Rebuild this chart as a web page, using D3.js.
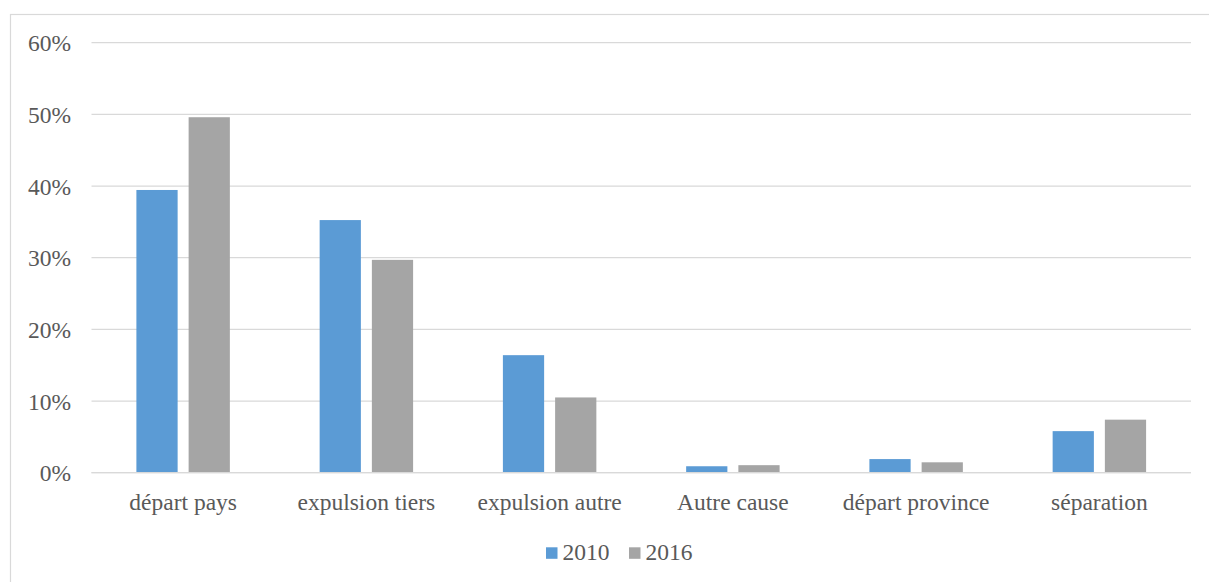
<!DOCTYPE html>
<html><head><meta charset="utf-8">
<script src="https://cdn.jsdelivr.net/npm/d3@7"></script>
<style>body{margin:0;background:#fff}svg{display:block}svg text{font-family:"Liberation Serif","Times New Roman",Tinos,serif;fill:#595959}</style>
</head><body><svg id="c" width="1209" height="582"></svg>
<script>
const categories = ["départ pays","expulsion tiers","expulsion autre","Autre cause","départ province","séparation"];
const seriesNames = ["2010","2016"];
const values2010 = [39.45, 35.25, 16.4, 0.9, 1.9, 5.8];
const values2016 = [49.6, 29.7, 10.5, 1.05, 1.45, 7.4];
const yTicks = [0,10,20,30,40,50,60];
const colors = ["#5b9bd5","#a5a5a5"];
const FS = 23.5;

const svg = d3.select("#c");
svg.append("rect").attr("x",10.5).attr("y",14.5).attr("width",1220).attr("height",600)
  .attr("fill","none").attr("stroke","#d9d9d9").attr("stroke-width",1.2);

const L=91.5, R=1191, T=42.7, B=472.7;
const x = d3.scaleBand().domain(categories).range([L,R]);
const y = d3.scaleLinear().domain([0,60]).range([B,T]);

svg.append("g").selectAll("line").data(yTicks).join("line")
  .attr("x1",L).attr("x2",R).attr("y1",d=>y(d)).attr("y2",d=>y(d))
  .attr("stroke","#d9d9d9").attr("stroke-width",1.3);

const yAxis = d3.axisLeft(y).tickValues(yTicks).tickFormat(d=>d+"%").tickSize(0).tickPadding(0);
const gy = svg.append("g").attr("transform",`translate(${71},0)`).call(yAxis);
gy.attr("font-family",null).attr("font-size",null);
gy.select(".domain").remove();
gy.selectAll("text").attr("font-size",FS).attr("fill","#595959").attr("dy","0.35em");

const bw = x.bandwidth()*0.225, gap = x.bandwidth()*0.06;
const series = [values2010, values2016];
series.forEach((vals,si)=>{
  svg.append("g").selectAll("rect").data(categories).join("rect")
    .attr("x",(c)=>x(c)+x.bandwidth()/2 + (si===0 ? -gap/2-bw : gap/2))
    .attr("width",bw)
    .attr("y",(c,i)=>y(vals[i]))
    .attr("height",(c,i)=>y(0)-y(vals[i]))
    .attr("fill",colors[si]);
});
svg.append("line").attr("x1",L).attr("x2",R).attr("y1",y(0)).attr("y2",y(0)).attr("stroke","#d9d9d9").attr("stroke-width",1.3);

const xAxis = d3.axisBottom(x).tickSize(0).tickPadding(0);
const gx = svg.append("g").attr("transform",`translate(0,${502})`).call(xAxis);
gx.attr("font-family",null).attr("font-size",null);
gx.select(".domain").remove();
gx.selectAll("text").attr("font-size",FS).attr("fill","#595959").attr("dy","0.35em");

const leg = svg.append("g");
const legX = [546, 629];
seriesNames.forEach((n,i)=>{
  leg.append("rect").attr("x",legX[i]).attr("y",547.3).attr("width",11.5).attr("height",11.5).attr("fill",colors[i]);
  leg.append("text").attr("x",legX[i]+16.5).attr("y",559.5).attr("font-size",FS).text(n);
});
</script></body></html>
